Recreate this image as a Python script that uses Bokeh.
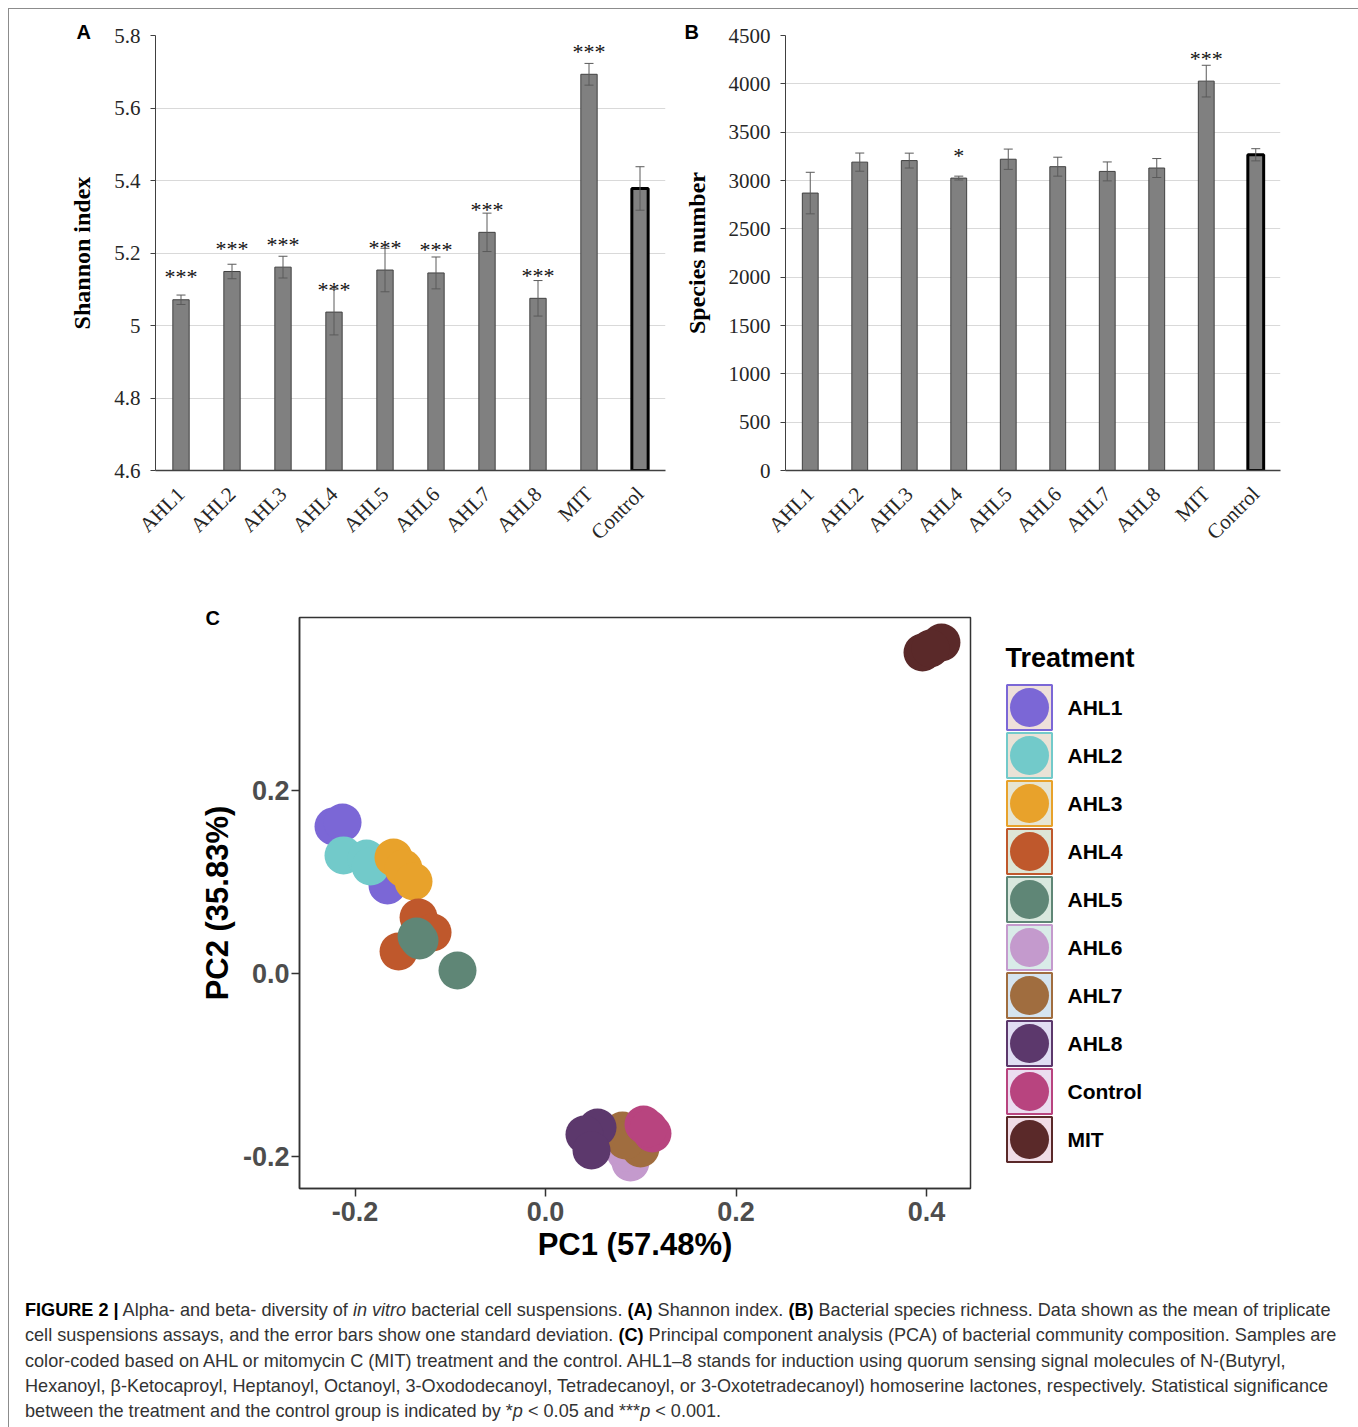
import math
from bokeh.plotting import figure
from bokeh.models import (ColumnDataSource, FactorRange, Range1d, FixedTicker, Whisker,
                          TeeHead, PrintfTickFormatter, Div)
from bokeh.layouts import column, row
from bokeh.embed import file_html
from bokeh.resources import INLINE
from bokeh.core.properties import value

# ---------------- data ----------------
categories = ["AHL1", "AHL2", "AHL3", "AHL4", "AHL5", "AHL6", "AHL7", "AHL8", "MIT", "Control"]

shannon_mean = [5.071, 5.149, 5.161, 5.037, 5.153, 5.145, 5.257, 5.075, 5.693, 5.378]
shannon_sd = [0.013, 0.020, 0.030, 0.063, 0.060, 0.044, 0.053, 0.049, 0.030, 0.060]
shannon_sig = ["***", "***", "***", "***", "***", "***", "***", "***", "***", ""]
shannon_ticks = [4.6, 4.8, 5.0, 5.2, 5.4, 5.6, 5.8]

species_mean = [2870, 3190, 3206, 3025, 3220, 3143, 3094, 3129, 4028, 3266]
species_sd = [215, 94, 77, 20, 105, 98, 98, 98, 164, 63]
species_sig = ["", "", "", "*", "", "", "", "", "***", ""]
species_ticks = [0, 500, 1000, 1500, 2000, 2500, 3000, 3500, 4000, 4500]

treatments = ["AHL1", "AHL2", "AHL3", "AHL4", "AHL5", "AHL6", "AHL7", "AHL8", "Control", "MIT"]
treatment_colors = ["#7B67D6", "#72CACA", "#E8A22B", "#BF582C", "#5F8676",
                    "#C49ACD", "#A06D3F", "#5C386C", "#B8447F", "#5A2929"]
key_backgrounds = ["#EEE0DA", "#EAE2D6", "#E6E5D3", "#DDE6D6", "#D9E8DE",
                   "#D9EBE8", "#D5E4F0", "#E0DDF2", "#EBDDF0", "#F0DCE6"]

pca_group = (["AHL1"] * 3 + ["AHL2"] * 3 + ["AHL3"] * 3 + ["AHL4"] * 3 + ["AHL5"] * 3 +
             ["AHL6"] * 3 + ["AHL7"] * 3 + ["AHL8"] * 3 + ["Control"] * 3 + ["MIT"] * 3)
pca_pc1 = [-0.2226, -0.2131, -0.1659,
           -0.2121, -0.1879, -0.1837,
           -0.1596, -0.1491, -0.1386,
           -0.1333, -0.1186, -0.1543,
           -0.1323, -0.1354, -0.0924,
           0.0892, 0.0840, 0.0787,
           0.0808, 0.0997, 0.0840,
           0.0546, 0.0409, 0.0483,
           0.1029, 0.1123, 0.1081,
           0.3958, 0.4157, 0.4042]
pca_pc2 = [0.1607, 0.1650, 0.0962,
           0.1290, 0.1257, 0.1169,
           0.1268, 0.1148, 0.1005,
           0.0612, 0.0448, 0.0240,
           0.0361, 0.0404, 0.0033,
           -0.2066, -0.1956, -0.1880,
           -0.1716, -0.1913, -0.1825,
           -0.1683, -0.1760, -0.1934,
           -0.1650, -0.1749, -0.1694,
           0.3508, 0.3617, 0.3552]
pc_ticks_x = [-0.2, 0.0, 0.2, 0.4]
pc_ticks_y = [-0.2, 0.0, 0.2]

caption_lines = [
    "<b style='color:#000'>FIGURE 2 |</b> Alpha- and beta- diversity of <i>in vitro</i> bacterial cell suspensions. "
    "<b style='color:#000'>(A)</b> Shannon index. <b style='color:#000'>(B)</b> Bacterial species richness. Data shown as the mean of triplicate",
    "cell suspensions assays, and the error bars show one standard deviation. <b style='color:#000'>(C)</b> Principal component "
    "analysis (PCA) of bacterial community composition. Samples are",
    "color-coded based on AHL or mitomycin C (MIT) treatment and the control. AHL1&#8211;8 stands for induction using quorum "
    "sensing signal molecules of N-(Butyryl,",
    "Hexanoyl, &#946;-Ketocaproyl, Heptanoyl, Octanoyl, 3-Oxododecanoyl, Tetradecanoyl, or 3-Oxotetradecanoyl) homoserine "
    "lactones, respectively. Statistical significance",
    "between the treatment and the control group is indicated by *<i>p</i> &lt; 0.05 and ***<i>p</i> &lt; 0.001.",
]

SERIF = "Liberation Serif"
SANS = "Liberation Sans"


def panel_letter(p, letter, offset, standoff):
    p.title.text = letter
    p.title.align = "left"
    p.title.offset = offset
    p.title.standoff = standoff
    p.title.text_font = SANS
    p.title.text_font_style = "bold"
    p.title.text_font_size = "20px"
    p.title.text_color = "#000000"


def bar_panel(means, sds, sigs, ymin, ymax, ticks, ylabel, width, bl, br, letter, letter_off):
    src = ColumnDataSource(dict(
        cat=categories, mean=means,
        upper=[m + s for m, s in zip(means, sds)],
        lower=[m - s for m, s in zip(means, sds)],
        sig=sigs,
        lw=[3 if c == "Control" else 1 for c in categories],
        lc=["#000000" if c == "Control" else "#404040" for c in categories],
    ))
    p = figure(x_range=FactorRange(factors=categories), y_range=Range1d(ymin, ymax),
               width=width, height=575, output_backend="svg", toolbar_location=None,
               min_border_left=bl, min_border_right=br, min_border_top=26, min_border_bottom=114)
    p.outline_line_color = None
    p.xgrid.visible = False
    p.ygrid.grid_line_color = "#d9d9d9"
    p.ygrid.grid_line_width = 1
    p.vbar(x="cat", top="mean", bottom=ymin, width=0.32, source=src,
           fill_color="#808080", line_color="lc", line_width="lw")
    w = Whisker(base="cat", upper="upper", lower="lower", source=src,
                line_color="#5a5a5a", line_width=1, level="annotation",
                upper_head=TeeHead(size=9, line_color="#5a5a5a", line_width=1),
                lower_head=TeeHead(size=9, line_color="#5a5a5a", line_width=1))
    p.add_layout(w)
    p.text(x="cat", y="mean", text="sig", source=src, text_align="center",
           text_baseline="middle", y_offset=-23, text_font=value(SERIF),
           text_font_size="22px", text_color="#111111")

    p.yaxis.ticker = FixedTicker(ticks=ticks)
    p.yaxis.formatter = PrintfTickFormatter(format="%g")
    p.yaxis.major_label_text_font = SERIF
    p.yaxis.major_label_text_font_size = "21px"
    p.yaxis.major_label_text_color = "#262626"
    p.yaxis.major_tick_out = 5
    p.yaxis.major_tick_in = 0
    p.yaxis.minor_tick_out = 0
    p.yaxis.minor_tick_in = 0
    p.yaxis.major_label_standoff = 10
    p.yaxis.axis_line_color = "#404040"
    p.yaxis.major_tick_line_color = "#404040"
    p.yaxis.axis_label = ylabel
    p.yaxis.axis_label_text_font = SERIF
    p.yaxis.axis_label_text_font_style = "bold"
    p.yaxis.axis_label_text_font_size = "24px"
    p.yaxis.axis_label_text_color = "#000000"
    p.yaxis.axis_label_standoff = 16

    p.xaxis.major_label_orientation = math.pi / 4
    p.xaxis.major_label_text_font = SERIF
    p.xaxis.major_label_text_font_size = "21px"
    p.xaxis.major_label_text_color = "#262626"
    p.xaxis.major_tick_out = 0
    p.xaxis.major_tick_in = 0
    p.xaxis.axis_line_color = "#404040"
    p.xaxis.axis_line_width = 1.5
    p.xaxis.major_label_standoff = 20

    panel_letter(p, letter, letter_off, -15)
    return p


pA = bar_panel(shannon_mean, shannon_sd, shannon_sig, 4.6, 5.8, shannon_ticks,
               "Shannon index", 666, 146, 10, "A", -79)
pB = bar_panel(species_mean, species_sd, species_sig, 0, 4500, species_ticks,
               "Species number", 680, 110, 75, "B", -101)

# ---------------- PCA panel ----------------
pC = figure(x_range=Range1d(-0.2583, 0.4462), y_range=Range1d(-0.235, 0.389),
            width=966, height=706, output_backend="svg", toolbar_location=None,
            min_border_left=290, min_border_right=5, min_border_top=33, min_border_bottom=102)
pC.grid.visible = False
pC.outline_line_color = "#333333"
pC.outline_line_width = 1.5
for g, col in zip(treatments, treatment_colors):
    xs = [x for x, gg in zip(pca_pc1, pca_group) if gg == g]
    ys = [y for y, gg in zip(pca_pc2, pca_group) if gg == g]
    pC.scatter(xs, ys, size=38, fill_color=col, line_color=None, fill_alpha=1.0)

pC.xaxis.ticker = FixedTicker(ticks=pc_ticks_x)
pC.yaxis.ticker = FixedTicker(ticks=pc_ticks_y)
for ax in (pC.xaxis, pC.yaxis):
    ax.formatter = PrintfTickFormatter(format="%.1f")
    ax.major_label_text_font = SANS
    ax.major_label_text_font_style = "bold"
    ax.major_label_text_font_size = "27px"
    ax.major_label_text_color = "#4D4D4D"
    ax.major_tick_out = 8
    ax.major_tick_in = 0
    ax.minor_tick_out = 0
    ax.minor_tick_in = 0
    ax.major_tick_line_color = "#333333"
    ax.major_tick_line_width = 1.5
    ax.axis_line_color = "#333333"
    ax.axis_line_width = 1.5
    ax.axis_label_text_font = SANS
    ax.axis_label_text_font_style = "bold"
    ax.axis_label_text_font_size = "31px"
    ax.axis_label_text_color = "#000000"
pC.xaxis.axis_label = "PC1 (57.48%)"
pC.yaxis.axis_label = "PC2 (35.83%)"
pC.xaxis.major_label_standoff = 5
pC.yaxis.major_label_standoff = 2
pC.xaxis.axis_label_standoff = 3
pC.yaxis.axis_label_standoff = 5
panel_letter(pC, "C", -94, -22)

# ---------------- legend panel (page-pixel coordinates, frame aligned with pC) ----------------
pL = figure(x_range=Range1d(975, 1355), y_range=Range1d(1188, 617), width=380, height=706,
            output_backend="svg", toolbar_location=None, x_axis_location=None,
            y_axis_location=None, min_border_left=0, min_border_right=0,
            min_border_top=33, min_border_bottom=102)
pL.grid.visible = False
pL.outline_line_color = None
key_y = [707 + 48 * i for i in range(len(treatments))]
pL.rect(x=[1029] * len(treatments), y=key_y, width=45, height=45,
        fill_color=key_backgrounds, line_color=treatment_colors, line_width=2)
pL.scatter(x=[1029] * len(treatments), y=key_y, size=39, fill_color=treatment_colors,
           line_color=None)
pL.text(x=[1067] * len(treatments), y=key_y, text=treatments, text_font=value(SANS),
        text_font_style="bold", text_font_size="21px", text_baseline="middle",
        text_color="#000000")
pL.text(x=[1005], y=[657], text=["Treatment"], text_font=value(SANS), text_font_style="bold",
        text_font_size="27px", text_baseline="middle", text_color="#000000")

# ---------------- caption ----------------
cap_html = ("<div style=\"font-family:'Liberation Sans',Arial,sans-serif;font-size:18.1px;"
            "color:#333333;line-height:25.3px;padding:3px 0 0 11px;white-space:nowrap;\">"
            + "<br>".join(caption_lines) + "</div>")
cap = Div(text=cap_html, width=1346, height=129)

root = column(row(pA, pB), row(pC, pL), cap,
              styles={"margin": "8px 0 0 8px",
                      "border-top": "1px solid #8c8c8c", "border-left": "1px solid #8c8c8c",
                      "border-right": "1px solid #8c8c8c"})

open("out.html", "w").write(file_html(root, INLINE))
